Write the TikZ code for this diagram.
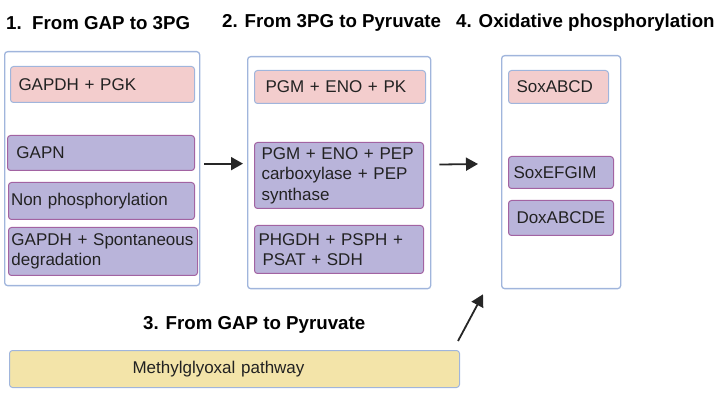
\documentclass[tikz,border=0pt]{standalone}
\usepackage{fontspec}
\setmainfont{Liberation Sans}
\usetikzlibrary{arrows.meta,positioning}
\definecolor{boxblue}{HTML}{A0B5DC}
\definecolor{pinkfill}{HTML}{F3CDCD}
\definecolor{lilacfill}{HTML}{B9B4DA}
\definecolor{lilacline}{HTML}{A263A2}
\definecolor{sandfill}{HTML}{F3E4A9}
\definecolor{inktext}{HTML}{222222}
% one unbreakable line, indented from the box edge
\newcommand{\padline}[2]{\hspace*{#1}\mbox{#2}}

\begin{document}
\begin{tikzpicture}[x=1pt, y=-1pt,
  stage/.style={draw=boxblue, line width=1.3pt, rounded corners=3pt, anchor=north west},
  title/.style={font=\fontsize{18.7}{22}\selectfont\bfseries, anchor=west, inner sep=0pt},
  enz/.style={draw=boxblue, fill=pinkfill, line width=1pt, rounded corners=3pt, anchor=north west,
    align=left, inner sep=0pt, text=inktext, font=\fontsize{17}{20.5}\selectfont},
  alt/.style={enz, fill=lilacfill, draw=lilacline},
  flow/.style={draw, -{Triangle[length=12pt,width=13pt]}, line width=1.8pt, black!85}
]
  \useasboundingbox (0,0) rectangle (720,403);
  % stage frames
  \node[stage, minimum width=195pt, minimum height=234pt] (frameA) at (4,51) {};
  \node[stage, minimum width=183pt, minimum height=232pt] (frameB) at (247,56) {};
  \node[stage, minimum width=119pt, minimum height=233pt] (frameD) at (501,55) {};
  % titles
  \node[title] (headA) at (6,23) {1.\ \ From GAP to 3PG};
  \node[title] (headB) at (222,23) {2. From 3PG to Pyruvate};
  \node[title] (headD) at (456,23) {4. Oxidative phosphorylation};
  \node[title] (headC) at (143,325) {3. From GAP to Pyruvate};
  % stage 1
  \node[enz, minimum width=184pt, minimum height=36pt, text width=184pt] (gapdh) at (10,66) {\padline{8pt}{GAPDH + PGK}};
  \node[alt, minimum width=187pt, minimum height=35pt, text width=187pt] (gapn) at (7,135) {\padline{9pt}{GAPN}};
  \node[alt, minimum width=186pt, minimum height=37pt, text width=186pt] (nonphos) at (8,182) {\padline{2.5pt}{Non phosphorylation}};
  \node[alt, minimum width=189pt, minimum height=48pt, text width=189pt] (spont) at (8,227) {\padline{3pt}{GAPDH + Spontaneous}\\\padline{3pt}{degradation}};
  % stage 2
  \node[enz, minimum width=171pt, minimum height=33pt, text width=171pt] (pgmpk) at (254,70) {\padline{11pt}{PGM + ENO + PK}};
  \node[alt, minimum width=169pt, minimum height=66pt, text width=169pt] (pgmpep) at (254,142) {\padline{7pt}{PGM + ENO + PEP}\\\padline{7pt}{carboxylase + PEP}\\\padline{7pt}{synthase}};
  \node[alt, minimum width=169pt, minimum height=48pt, text width=169pt] (phgdh) at (254,225) {\padline{4pt}{PHGDH + PSPH +}\\\padline{8pt}{PSAT + SDH}};
  % stage 4
  \node[enz, minimum width=100pt, minimum height=33pt, text width=100pt] (soxabcd) at (508,70) {\padline{8pt}{SoxABCD}};
  \node[alt, minimum width=105pt, minimum height=32pt, text width=105pt] (soxefgim) at (508,156) {\padline{5pt}{SoxEFGIM}};
  \node[alt, minimum width=105pt, minimum height=35pt, text width=105pt] (doxabcde) at (508,200) {\padline{8pt}{DoxABCDE}};
  % stage 3
  \node[enz, fill=sandfill, minimum width=450pt, minimum height=37pt, text width=450pt] (methyl) at (9,350) {\padline{123pt}{Methylglyoxal pathway}};
  % arrows
  \draw[flow, shorten <=4pt, shorten >=4pt] ([yshift=5pt]frameA.east) -- ([yshift=9pt]frameB.west);
  \draw[flow, shorten <=8pt, shorten >=23pt] ([yshift=8pt]frameB.east) -- ([yshift=8.5pt]frameD.west);
  \draw[flow] ([xshift=-2pt, yshift=9pt]methyl.north east) -- ([xshift=-18pt, yshift=-5pt]frameD.south west);
\end{tikzpicture}
\end{document}
